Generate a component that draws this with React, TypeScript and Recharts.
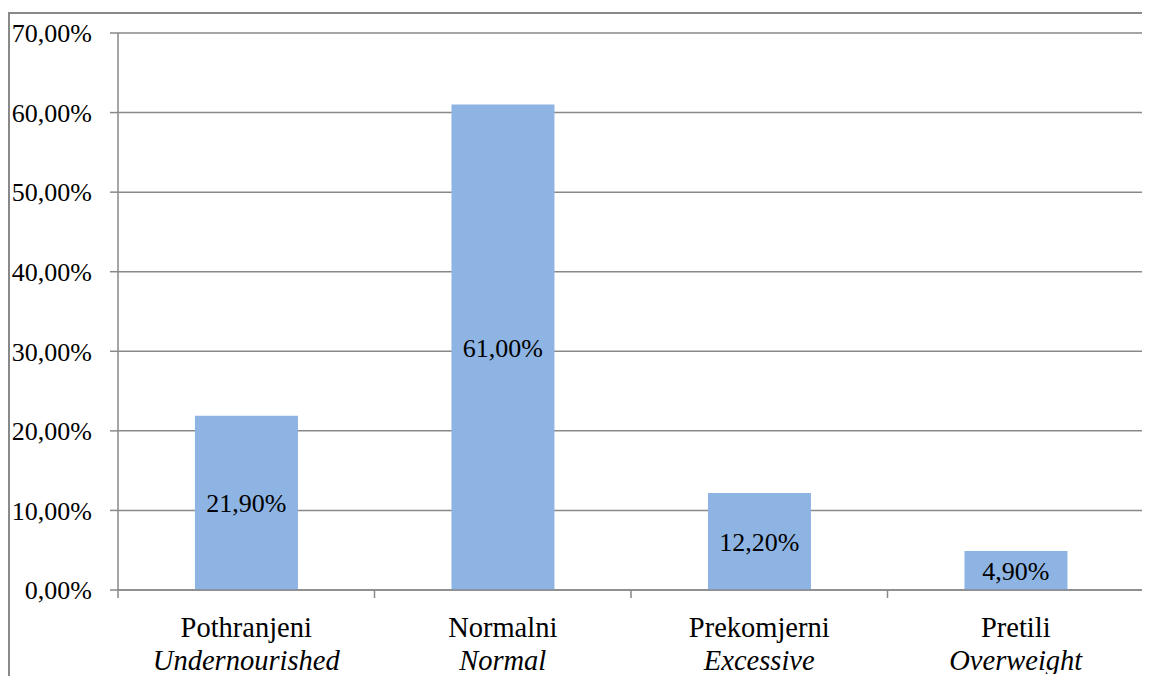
import React from "react";
import {Bar, BarChart, CartesianGrid, LabelList, XAxis, YAxis} from "recharts";

const categories = ["Pothranjeni", "Normalni", "Prekomjerni", "Pretili"];
const categoriesEn = ["Undernourished", "Normal", "Excessive", "Overweight"];
const shares = [21.9, 61.0, 12.2, 4.9];
const yTicks = [0, 10, 20, 30, 40, 50, 60, 70];

const data = categories.map((name, i) => ({name, en: categoriesEn[i], value: shares[i]}));

const GRID = "#898989";
const FONT = "'Liberation Serif', 'Times New Roman', serif";

const pct = (v: number) => v.toFixed(2).replace(".", ",") + "%";

// two-line category label, plus tick marks at the category edges (Excel style)
function CategoryTick(props: any) {
    const {x, y, payload, index, width, visibleTicksCount} = props;
    const band = width / visibleTicksCount;
    const top = y - 8;
    return (
        <g>
            <line x1={x - band / 2} x2={x - band / 2} y1={top} y2={top + 8} stroke={GRID} strokeWidth={1.5} />
            {index === visibleTicksCount - 1 &&
                <line x1={x + band / 2} x2={x + band / 2} y1={top} y2={top + 8} stroke={GRID} strokeWidth={1.5} />}
            <text x={x} y={top + 47} textAnchor="middle" fontFamily={FONT} fontSize={28.5} fill="#000">
                {payload.value}
            </text>
            <text x={x} y={top + 80} textAnchor="middle" fontFamily={FONT} fontSize={28.5} fontStyle="italic" fill="#000">
                {categoriesEn[index]}
            </text>
        </g>
    );
}

export default function App() {
    return (
        <div style={{marginTop: 4, width: 1142, height: 664, fontFamily: FONT,
            borderTop: `2px solid ${GRID}`, borderLeft: `2px solid ${GRID}`}}>
            <BarChart width={1140} height={660} data={data} barCategoryGap="30%"
                      margin={{top: 19, right: 6, left: 0, bottom: 0}}>
                <CartesianGrid vertical={false} stroke={GRID} strokeWidth={1.5} />
                <XAxis dataKey="name" height={84} tickLine={false} interval={0}
                       axisLine={{stroke: GRID, strokeWidth: 1.5}} tick={<CategoryTick />} />
                <YAxis domain={[0, 70]} ticks={yTicks} width={108} tickSize={8} tickMargin={18}
                       tickFormatter={pct} stroke={GRID}
                       axisLine={{stroke: GRID, strokeWidth: 1.5}} tickLine={{stroke: GRID, strokeWidth: 1.5}}
                       tick={{fill: "#000", fontFamily: FONT, fontSize: 26}} />
                <Bar dataKey="value" fill="#8EB4E3" isAnimationActive={false}>
                    <LabelList dataKey="value" position="center" formatter={(v: any) => pct(Number(v))}
                               fill="#000" fontFamily={FONT} fontSize={26} />
                </Bar>
            </BarChart>
        </div>
    );
}
